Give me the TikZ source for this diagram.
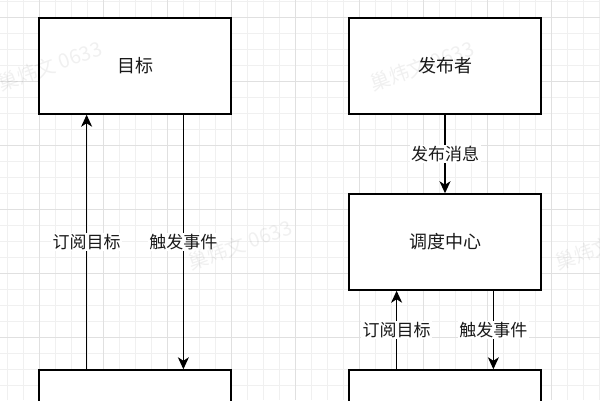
\documentclass[tikz,border=0pt]{standalone}
\usepackage{fontspec}
\setmainfont{Noto Sans CJK SC}
\usetikzlibrary{arrows.meta,calc}
\definecolor{gridminor}{HTML}{F0F0F0}
\definecolor{gridmajor}{HTML}{E0E0E0}
\tikzset{
  box/.style={draw=black, line width=1.5pt, fill=white, minimum width=192pt, minimum height=96pt, inner sep=0pt, font=\fontsize{18}{20}\selectfont, text=black!90},
  arr/.style={line width=1.5pt, -{Stealth[length=12pt,width=11pt,inset=3.5pt]}},
  lbl/.style={fill=white, inner sep=1.5pt, font=\fontsize{17}{19}\selectfont, text=black!90},
  wm/.style={text=black, opacity=0.06, rotate=20, font=\fontsize{20}{22}\selectfont, anchor=base west}
}
\begin{document}
\begin{tikzpicture}[x=1pt,y=-1pt]
\useasboundingbox (0,0) rectangle (600,400);
\fill[white] (0,0) rectangle (600,400);
% grid
\foreach \gx in {7,23,...,599} \draw[gridminor, line width=1pt] (\gx,0) -- (\gx,400);
\foreach \gy in {1,17,...,399} \draw[gridminor, line width=1pt] (0,\gy) -- (600,\gy);
\foreach \gx in {39,103,...,599} \draw[gridmajor, line width=1pt] (\gx,0) -- (\gx,400);
\foreach \gy in {17,81,...,399} \draw[gridmajor, line width=1pt] (0,\gy) -- (600,\gy);
% boxes
\node[box] (tg) at (135,66) {目标};
\node[box] (pub) at (445,66) {发布者};
\node[box] (ctr) at (445,242) {调度中心};
\node[box] (bl) at (135,418) {};
\node[box] (br) at (445,418) {};
% connectors
\draw[arr] ($(bl.north west)!0.25!(bl.north east)$) -- node[lbl] (l1) {订阅目标} ($(tg.south west)!0.25!(tg.south east)$);
\draw[arr] ($(tg.south west)!0.75!(tg.south east)$) -- node[lbl] (l2) {触发事件} ($(bl.north west)!0.75!(bl.north east)$);
\draw[arr] (pub.south) -- node[lbl] (l3) {发布消息} (ctr.north);
\draw[arr] ($(br.north west)!0.25!(br.north east)$) -- node[lbl] (l4) {订阅目标} ($(ctr.south west)!0.25!(ctr.south east)$);
\draw[arr] ($(ctr.south west)!0.75!(ctr.south east)$) -- node[lbl] (l5) {触发事件} ($(br.north west)!0.75!(br.north east)$);
% watermark
\node[wm] (w1) at (-2,93) {巢炜文 0633};
\node[wm] (w2) at (370,93) {巢炜文 0633};
\node[wm] (w3) at (188,272) {巢炜文 0633};
\node[wm] (w4) at (555,272) {巢炜文 0633};
\end{tikzpicture}
\end{document}
